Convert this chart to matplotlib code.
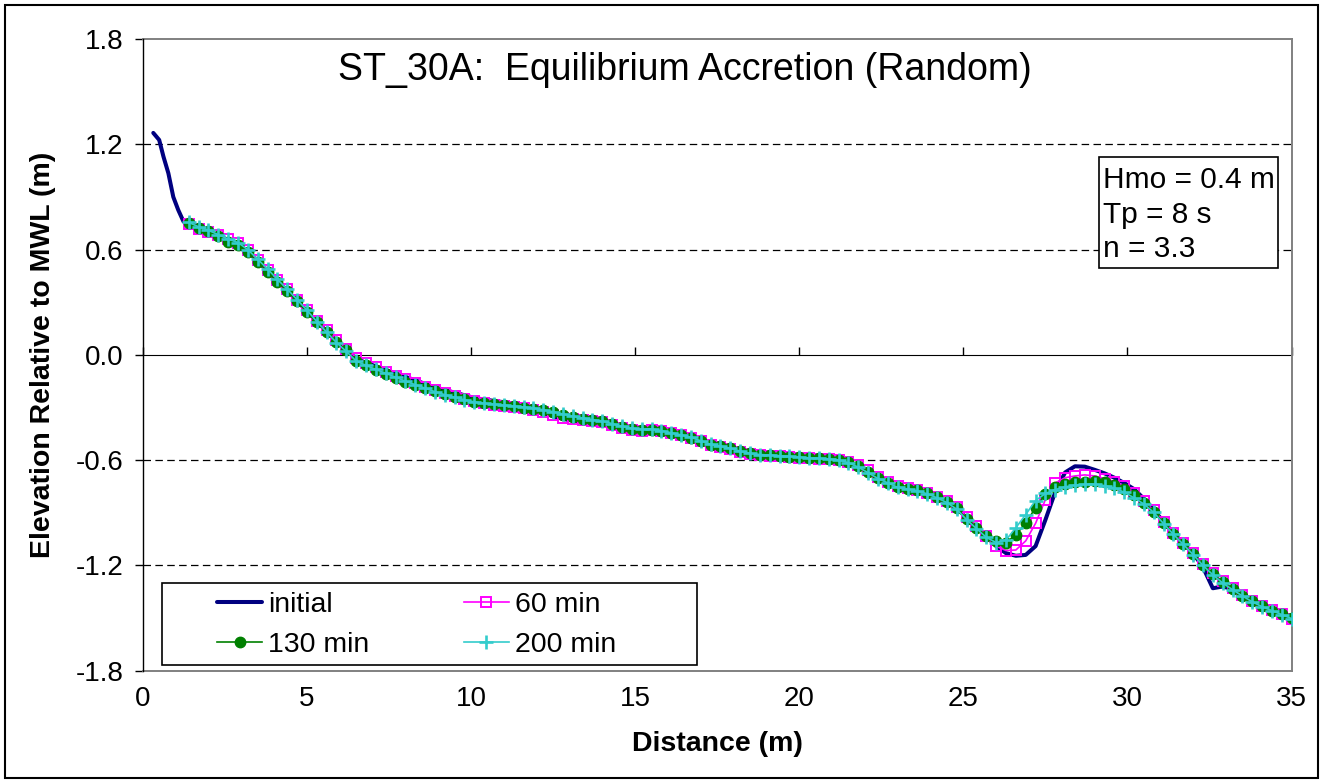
import matplotlib
matplotlib.use("Agg")
import matplotlib.pyplot as plt
from matplotlib.patches import Rectangle
from matplotlib.ticker import FuncFormatter

plt.rcParams['font.family'] = ['Liberation Sans', 'DejaVu Sans']
plt.rcParams['axes.unicode_minus'] = False

# profile survey positions (m)
dist = [1.4, 1.7, 2.0, 2.3, 2.6, 2.9, 3.2, 3.5, 3.8, 4.1,
        4.4, 4.7, 5.0, 5.3, 5.6, 5.9, 6.2, 6.5, 6.8, 7.1,
        7.4, 7.7, 8.0, 8.3, 8.6, 8.9, 9.2, 9.5, 9.8, 10.1,
        10.4, 10.7, 11.0, 11.3, 11.6, 11.9, 12.2, 12.5, 12.8, 13.1,
        13.4, 13.7, 14.0, 14.3, 14.6, 14.9, 15.2, 15.5, 15.8, 16.1,
        16.4, 16.7, 17.0, 17.3, 17.6, 17.9, 18.2, 18.5, 18.8, 19.1,
        19.4, 19.7, 20.0, 20.3, 20.6, 20.9, 21.2, 21.5, 21.8, 22.1,
        22.4, 22.7, 23.0, 23.3, 23.6, 23.9, 24.2, 24.5, 24.8, 25.1,
        25.4, 25.7, 26.0, 26.3, 26.6, 26.9, 27.2, 27.5, 27.8, 28.1,
        28.4, 28.7, 29.0, 29.3, 29.6, 29.9, 30.2, 30.5, 30.8, 31.1,
        31.4, 31.7, 32.0, 32.3, 32.6, 32.9, 33.2, 33.5, 33.8, 34.1,
        34.4, 34.7, 35.0]

# initial profile also covers the upper beach
initial_head_x = [0.32, 0.5, 0.63, 0.78, 0.93, 1.08, 1.24]
initial_head_y = [1.265, 1.225, 1.13, 1.035, 0.90, 0.826, 0.76]

initial = [0.75, 0.725, 0.705, 0.68, 0.655, 0.632, 0.59, 0.535, 0.478, 0.418,
           0.368, 0.308, 0.25, 0.19, 0.135, 0.08, 0.03, -0.022, -0.045, -0.065,
           -0.085, -0.105, -0.125, -0.145, -0.165, -0.185, -0.2, -0.215, -0.23, -0.245,
           -0.255, -0.262, -0.27, -0.28, -0.295, -0.31, -0.33, -0.35, -0.365, -0.375,
           -0.38, -0.382, -0.385, -0.398, -0.412, -0.423, -0.428, -0.425, -0.434, -0.445,
           -0.457, -0.471, -0.492, -0.513, -0.523, -0.533, -0.55, -0.563, -0.569, -0.572,
           -0.576, -0.58, -0.584, -0.588, -0.59, -0.593, -0.597, -0.611, -0.632, -0.662,
           -0.698, -0.726, -0.752, -0.761, -0.772, -0.788, -0.81, -0.836, -0.872, -0.931,
           -0.982, -1.035, -1.09, -1.13, -1.145, -1.14, -1.09, -0.94, -0.78, -0.67,
           -0.635, -0.637, -0.655, -0.675, -0.70, -0.73, -0.765, -0.82, -0.885, -0.95,
           -1.015, -1.075, -1.13, -1.21, -1.33, -1.32, -1.335, -1.37, -1.403, -1.432,
           -1.455, -1.477, -1.50]

min60 = [0.745, 0.72, 0.70, 0.685, 0.66, 0.635, 0.595, 0.54, 0.485, 0.425,
         0.375, 0.315, 0.255, 0.195, 0.14, 0.085, 0.035, -0.015, -0.045, -0.07,
         -0.095, -0.118, -0.14, -0.16, -0.182, -0.202, -0.22, -0.236, -0.25, -0.264,
         -0.275, -0.283, -0.29, -0.298, -0.305, -0.313, -0.327, -0.342, -0.357, -0.368,
         -0.372, -0.377, -0.382, -0.398, -0.416, -0.428, -0.432, -0.43, -0.436, -0.447,
         -0.458, -0.472, -0.493, -0.514, -0.525, -0.535, -0.552, -0.565, -0.571, -0.575,
         -0.578, -0.582, -0.586, -0.59, -0.592, -0.596, -0.6, -0.612, -0.63, -0.658,
         -0.694, -0.722, -0.748, -0.76, -0.772, -0.787, -0.808, -0.832, -0.866, -0.922,
         -0.975, -1.035, -1.09, -1.115, -1.112, -1.06, -0.96, -0.825, -0.73, -0.70,
         -0.69, -0.684, -0.69, -0.705, -0.722, -0.745, -0.785, -0.835, -0.885, -0.95,
         -1.014, -1.072, -1.13, -1.19, -1.245, -1.29, -1.33, -1.367, -1.401, -1.43,
         -1.453, -1.478, -1.505]

min130 = [0.75, 0.725, 0.705, 0.675, 0.645, 0.625, 0.585, 0.53, 0.475, 0.415,
          0.365, 0.305, 0.245, 0.185, 0.13, 0.075, 0.025, -0.035, -0.06, -0.085,
          -0.108, -0.13, -0.152, -0.17, -0.19, -0.208, -0.225, -0.24, -0.254, -0.266,
          -0.276, -0.282, -0.288, -0.294, -0.3, -0.306, -0.315, -0.327, -0.342, -0.355,
          -0.364, -0.371, -0.378, -0.393, -0.41, -0.421, -0.427, -0.426, -0.435, -0.446,
          -0.457, -0.472, -0.493, -0.512, -0.522, -0.533, -0.55, -0.562, -0.569, -0.572,
          -0.576, -0.58, -0.584, -0.588, -0.59, -0.593, -0.598, -0.613, -0.636, -0.668,
          -0.702, -0.728, -0.752, -0.762, -0.772, -0.789, -0.812, -0.838, -0.875, -0.935,
          -0.985, -1.03, -1.06, -1.07, -1.025, -0.96, -0.87, -0.795, -0.755, -0.735,
          -0.727, -0.722, -0.72, -0.725, -0.743, -0.765, -0.80, -0.845, -0.893, -0.958,
          -1.02, -1.078, -1.135, -1.197, -1.25, -1.297, -1.336, -1.372, -1.405, -1.434,
          -1.457, -1.478, -1.502]

min200 = [0.755, 0.73, 0.71, 0.685, 0.66, 0.64, 0.6, 0.545, 0.49, 0.43,
          0.375, 0.315, 0.255, 0.19, 0.13, 0.07, 0.02, -0.035, -0.06, -0.083,
          -0.105, -0.127, -0.15, -0.17, -0.19, -0.21, -0.227, -0.242, -0.256, -0.268,
          -0.277, -0.282, -0.287, -0.292, -0.297, -0.304, -0.313, -0.324, -0.337, -0.35,
          -0.36, -0.37, -0.377, -0.392, -0.408, -0.419, -0.424, -0.422, -0.432, -0.444,
          -0.456, -0.47, -0.49, -0.51, -0.521, -0.532, -0.549, -0.562, -0.568, -0.571,
          -0.575, -0.579, -0.583, -0.587, -0.59, -0.593, -0.599, -0.615, -0.64, -0.672,
          -0.705, -0.73, -0.755, -0.764, -0.775, -0.792, -0.815, -0.842, -0.88, -0.94,
          -0.99, -1.04, -1.07, -1.055, -0.985, -0.91, -0.83, -0.79, -0.768, -0.752,
          -0.742, -0.738, -0.737, -0.745, -0.758, -0.783, -0.815, -0.85, -0.898, -0.962,
          -1.023, -1.08, -1.138, -1.2, -1.253, -1.3, -1.338, -1.374, -1.407, -1.435,
          -1.458, -1.48, -1.503]

y_ticks = [-1.8, -1.2, -0.6, 0.0, 0.6, 1.2, 1.8]
x_ticks = [0, 5, 10, 15, 20, 25, 30, 35]

fig = plt.figure(figsize=(13.22, 7.82), dpi=100)
ax = fig.add_axes([0.108, 0.1423, 0.869, 0.8078])

l_init, = ax.plot(initial_head_x + dist, initial_head_y + initial, color='#000080', lw=2.9,
                  solid_capstyle='round', solid_joinstyle='round', label='initial', zorder=3)
l60, = ax.plot(dist, min60, color='#FF00FF', lw=1.2, marker='s', ms=6.5, mfc='none',
               mec='#FF00FF', mew=1.4, label='60 min', zorder=4)
l130, = ax.plot(dist, min130, color='#008000', lw=1.2, marker='o', ms=7.5,
                mec='#008000', mfc='#008000', label='130 min', zorder=5)
l200, = ax.plot(dist, min200, color='#33CCCC', lw=1.2, marker='+', ms=10.5, mew=1.9,
                label='200 min', zorder=6)

ax.set_xlim(0, 35)
ax.set_ylim(-1.8, 1.8)

# dashed gridlines, skipping the frame and the zero axis
for yv in y_ticks[1:-1]:
    if yv != 0.0:
        ax.axhline(yv, color='black', lw=0.9, ls=(0, (6, 3.5)), zorder=1)

for side in ['top', 'right', 'bottom']:
    ax.spines[side].set_color('#808080')
    ax.spines[side].set_linewidth(1.4)
ax.spines['left'].set_color('black')
ax.spines['left'].set_linewidth(1.0)
ax.spines['left'].set_zorder(7)

ax.set_yticks(y_ticks)
ax.yaxis.set_major_formatter(FuncFormatter(lambda v, p: '%.1f' % v))
ax.tick_params(axis='y', direction='out', length=6, width=1, pad=8, labelsize=20)
ax.set_xticks(x_ticks)
ax.tick_params(axis='x', length=0, pad=11, labelsize=20)

# zero line acts as the category axis with its own tick marks
zero_ax = ax.secondary_xaxis(0.5)
zero_ax.set_xticks(x_ticks)
zero_ax.tick_params(axis='x', direction='out', length=6, width=1, labelbottom=False,
                    labeltop=False)
zero_ax.spines['bottom'].set_color('black')
zero_ax.spines['bottom'].set_linewidth(1.0)

ax.set_xlabel('Distance (m)', fontsize=20.5, fontweight='bold', labelpad=14)
ax.set_ylabel('Elevation Relative to MWL (m)', fontsize=20.5, fontweight='bold', labelpad=14)

ax.text(0.472, 0.951, 'ST_30A:  Equilibrium Accretion (Random)', transform=ax.transAxes,
        ha='center', va='center', fontsize=27)

# wave parameter box
ax.add_patch(Rectangle((0.8323, 0.6375), 0.1558, 0.1757, transform=ax.transAxes,
                       fc='white', ec='black', lw=1.2, zorder=8))
ax.text(0.8358, 0.722, 'Hmo = 0.4 m\nTp = 8 s\nn = 3.3', transform=ax.transAxes,
        ha='left', va='center', fontsize=21.5, linespacing=1.3, zorder=9)

# legend box
ax.add_patch(Rectangle((0.0168, 0.009), 0.4656, 0.130, transform=ax.transAxes,
                       fc='white', ec='black', lw=1.2, zorder=8))
leg = ax.legend([l_init, l130, l60, l200], ['initial', '130 min', '60 min', '200 min'],
                ncol=2, loc='center left', bbox_to_anchor=(0.0425, 0.072),
                frameon=False, fontsize=20.5, handlelength=1.58, handletextpad=0.22,
                columnspacing=3.3, labelspacing=0.48, borderpad=0.4)
leg.set_zorder(9)

# outer chart border
fig.patches.append(Rectangle((0.0035, 0.005), 0.9935, 0.988, transform=fig.transFigure,
                             fill=False, ec='black', lw=1.5))

fig.savefig('out.png', dpi=100)
